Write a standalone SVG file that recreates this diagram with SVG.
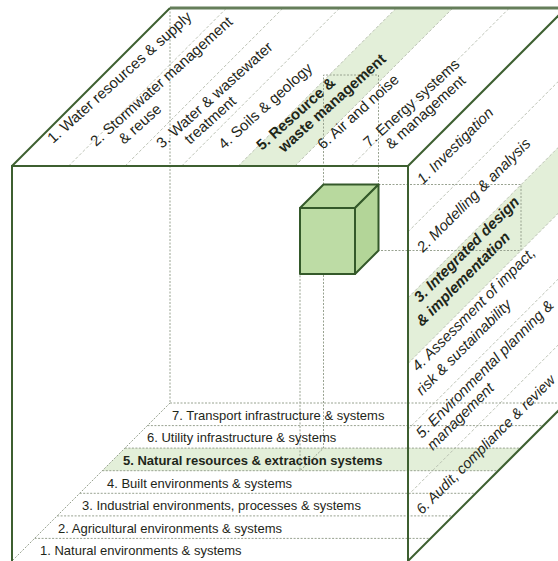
<svg xmlns="http://www.w3.org/2000/svg" width="558" height="561" viewBox="0 0 558 561">
<style>
.edge{fill:none;stroke:#3d5f30;stroke-width:2;stroke-linejoin:miter}
.back{fill:none;stroke:#657e5a;stroke-width:3}
.div{fill:none;stroke:#b4bbad;stroke-width:0.9;stroke-dasharray:3 2}
.dot{fill:none;stroke:#98a290;stroke-width:1;stroke-dasharray:2 1.5}
.hl{fill:#e3efd9;stroke:none}
.t{font-family:"Liberation Sans",Arial,sans-serif;fill:#1e2619}
.top{font-size:15px}
.rt{font-size:15px;font-style:italic}
.bt{font-size:13px}
.b{font-weight:bold}
</style>
<rect width="558" height="561" fill="#ffffff"/>
<g id="highlights">
<polygon class="hl" points="238.3,166 396.3,8 452.9,8 294.9,166"/>
<polygon class="hl" points="408,297.7 566,139.7 566,205.5 408,363.5"/>
<polygon class="hl" points="102.3,470.7 124.9,448.1 520.9,448.1 498.3,470.7"/>
</g>
<g id="dividers">
<line class="div" x1="68.6" y1="166" x2="226.6" y2="8"/>
<line class="div" x1="125.1" y1="166" x2="283.1" y2="8"/>
<line class="div" x1="181.7" y1="166" x2="339.7" y2="8"/>
<line class="div" x1="238.3" y1="166" x2="396.3" y2="8"/>
<line class="div" x1="294.9" y1="166" x2="452.9" y2="8"/>
<line class="div" x1="351.4" y1="166" x2="509.4" y2="8"/>
<line class="div" x1="408" y1="231.8" x2="566" y2="73.8"/>
<line class="div" x1="408" y1="297.7" x2="566" y2="139.7"/>
<line class="div" x1="408" y1="363.5" x2="566" y2="205.5"/>
<line class="div" x1="408" y1="429.3" x2="566" y2="271.3"/>
<line class="div" x1="408" y1="495.2" x2="566" y2="337.2"/>
</g>
<g id="floor-lines">
<line class="dot" x1="170" y1="403" x2="566" y2="403"/>
<line class="dot" x1="147.4" y1="425.6" x2="543.4" y2="425.6"/>
<line class="dot" x1="124.9" y1="448.1" x2="520.9" y2="448.1"/>
<line class="dot" x1="102.3" y1="470.7" x2="498.3" y2="470.7"/>
<line class="dot" x1="79.7" y1="493.3" x2="475.7" y2="493.3"/>
<line class="dot" x1="57.1" y1="515.9" x2="453.1" y2="515.9"/>
<line class="dot" x1="34.6" y1="538.4" x2="430.6" y2="538.4"/>
<line class="dot" x1="170" y1="8" x2="170" y2="403"/>
<line class="dot" x1="170" y1="403" x2="12" y2="561"/>
</g>
<g id="projections">
<polyline class="dot" points="323.5,184.5 323.5,75 378.5,75 378.5,184.5"/>
<polyline class="dot" points="378.5,184.5 521,184.5 521,250.5 378.5,250.5"/>
<polyline class="dot" points="323.5,250.5 323.5,448.1 300,470.7 300,274"/>
</g>
<g id="cube-edges">
<polyline class="edge" points="12,561 12,166 408,166 408,561"/>
<line class="edge" x1="12" y1="166" x2="170" y2="8"/>
<line class="edge" x1="408" y1="166" x2="566" y2="8"/>
<line class="edge" x1="408" y1="561" x2="566" y2="403"/>
<line class="back" x1="170" y1="8" x2="566" y2="8"/>
</g>
<g id="small-cube" stroke="#34592a" stroke-width="2" stroke-linejoin="round">
<polygon points="300,208 323.5,184.5 378.5,184.5 355,208" fill="#b8d99e"/>
<polygon points="355,208 378.5,184.5 378.5,250.5 355,274" fill="#b3d598"/>
<rect x="300" y="208" width="55" height="66" fill="#bddca5"/>
</g>
<g id="top-labels" class="t top">
<text transform="translate(53,144) rotate(-42)">1. Water resources &amp; supply</text>
<text transform="translate(96,147) rotate(-42)">2. Stormwater management</text>
<text transform="translate(124,145) rotate(-42)">&amp; reuse</text>
<text transform="translate(162,149) rotate(-42)">3. Water &amp; wastewater</text>
<text transform="translate(190,145) rotate(-42)">treatment</text>
<text transform="translate(224,150) rotate(-42)">4. Soils &amp; geology</text>
<text class="b" transform="translate(262,151) rotate(-42)">5. Resource &amp;</text>
<text class="b" transform="translate(284,153) rotate(-42)">waste management</text>
<text transform="translate(323,150) rotate(-42)">6. Air and noise</text>
<text transform="translate(369,148) rotate(-42)">7. Energy systems</text>
<text transform="translate(391,150) rotate(-42)">&amp; management</text>
</g>
<g id="right-labels" class="t rt">
<text transform="translate(423,185) rotate(-45)">1. Investigation</text>
<text transform="translate(423,253) rotate(-45)">2. Modelling &amp; analysis</text>
<text class="b" transform="translate(420,303) rotate(-45)">3. Integrated design</text>
<text class="b" transform="translate(422,327) rotate(-45)">&amp; implementation</text>
<text transform="translate(418,372) rotate(-45)">4. Assessment of impact,</text>
<text transform="translate(422,396) rotate(-45)">risk &amp; sustainability</text>
<text transform="translate(422,439) rotate(-45)">5. Environmental planning &amp;</text>
<text transform="translate(433,451) rotate(-45)">management</text>
<text style="font-size:14.5px" transform="translate(422,515) rotate(-45)">6. Audit, compliance &amp; review</text>
</g>
<g id="bottom-labels" class="t bt">
<text x="172" y="419.5">7. Transport infrastructure &amp; systems</text>
<text x="147" y="442">6. Utility infrastructure &amp; systems</text>
<text class="b" x="123" y="465">5. Natural resources &amp; extraction systems</text>
<text x="107" y="487.5">4. Built environments &amp; systems</text>
<text x="82" y="510">3. Industrial environments, processes &amp; systems</text>
<text x="58" y="532.5">2. Agricultural environments &amp; systems</text>
<text x="40" y="555">1. Natural environments &amp; systems</text>
</g>
</svg>
